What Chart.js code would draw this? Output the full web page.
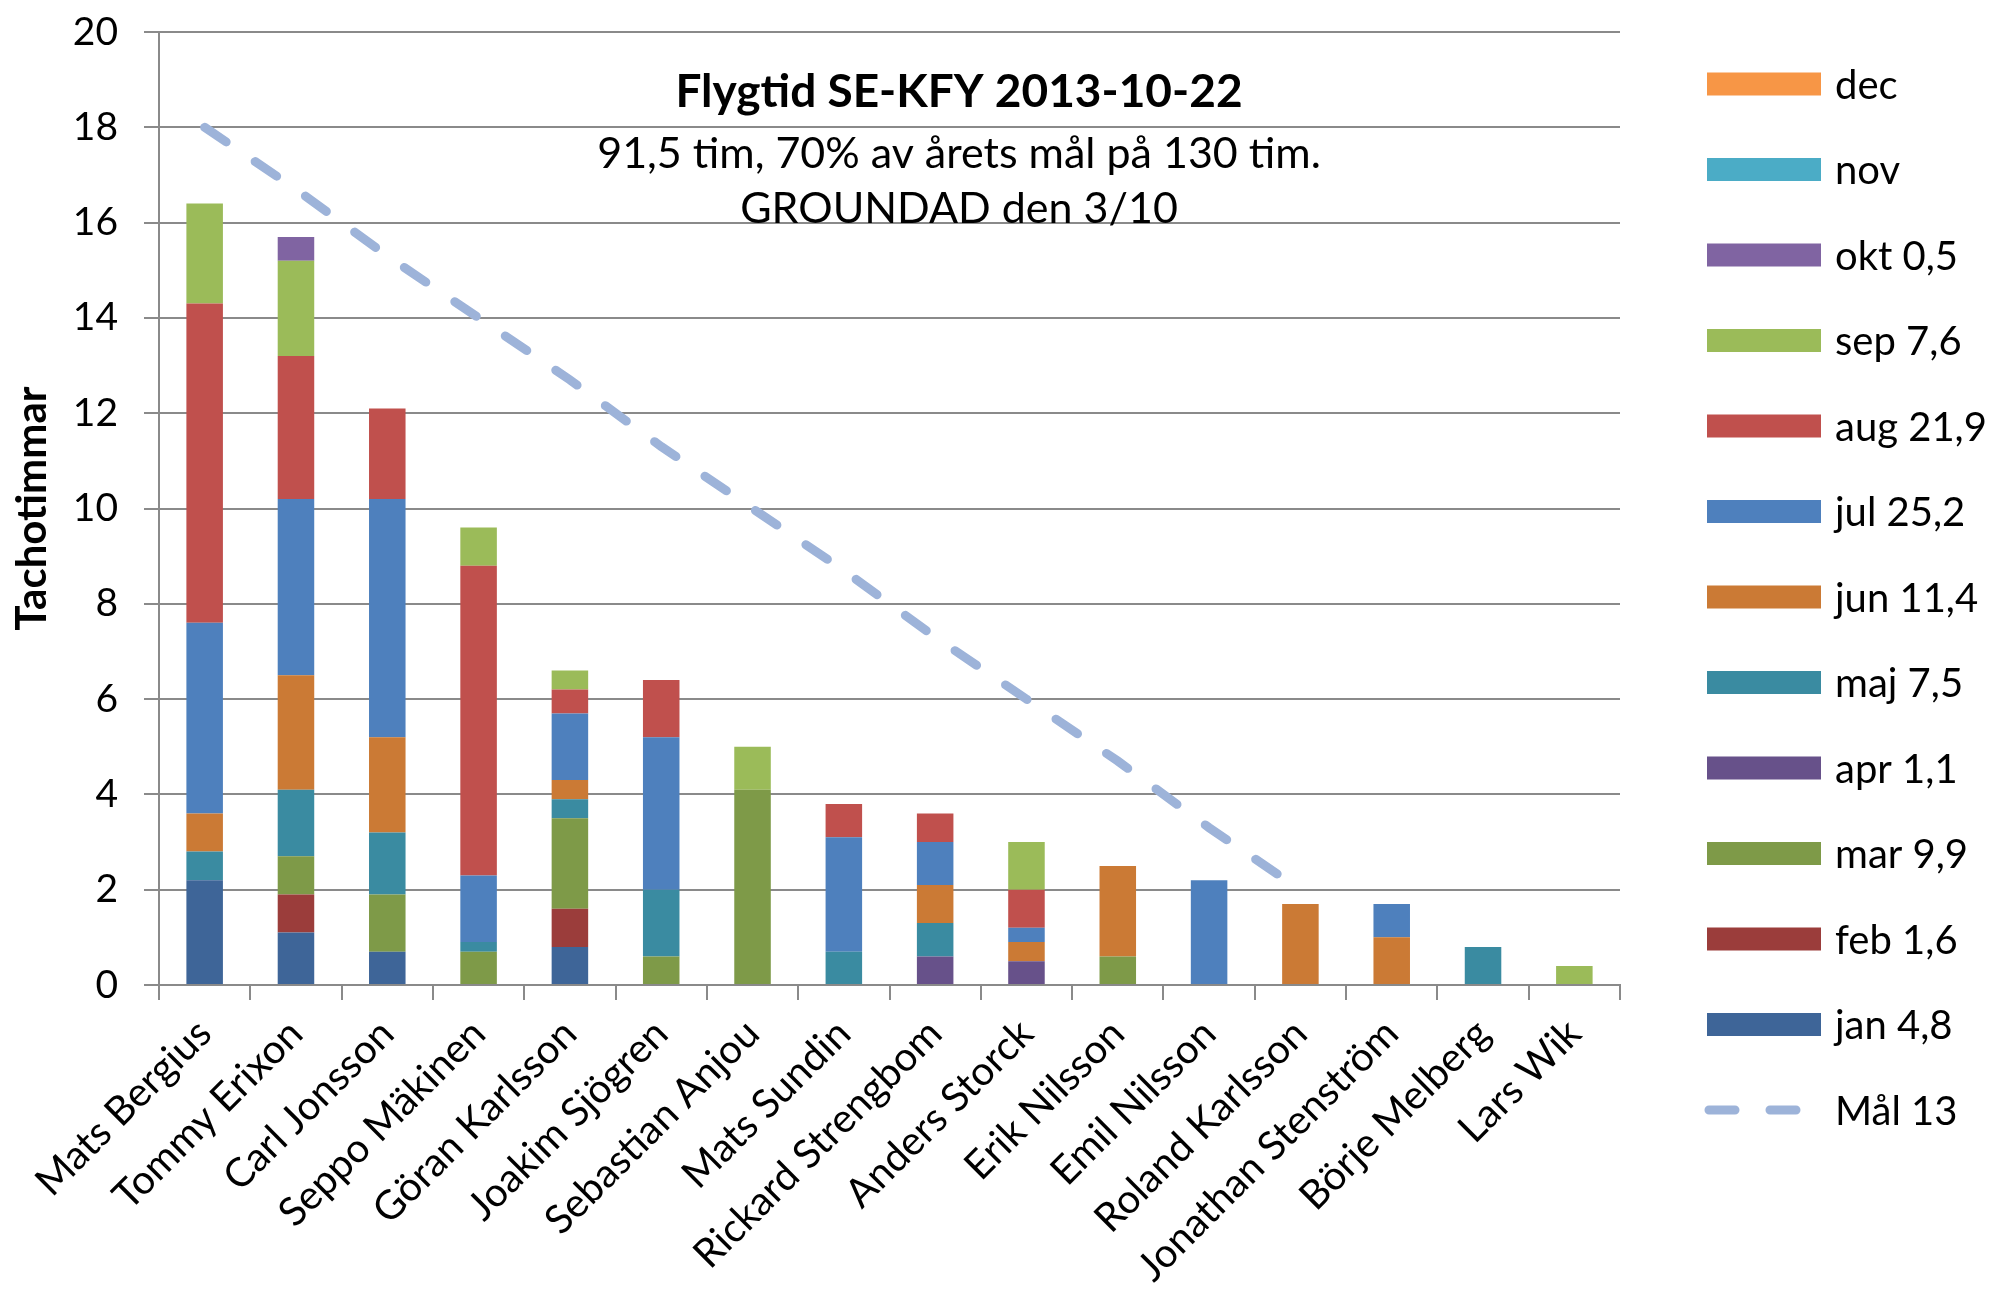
<!DOCTYPE html>
<html>
<head>
<meta charset="utf-8">
<title>Flygtid SE-KFY 2013-10-22</title>
<script src="https://cdn.jsdelivr.net/npm/chart.js@4.4.1/dist/chart.umd.min.js"></script>
<style>
  html, body { margin: 0; padding: 0; background: #ffffff; }
  #wrap { width: 1997px; height: 1304px; }
</style>
</head>
<body>
<div id="wrap"><canvas id="c" width="1997" height="1304"></canvas></div>
<script>
// Pilots (one stacked bar each)
const pilots = ["Mats Bergius", "Tommy Erixon", "Carl Jonsson", "Seppo Mäkinen", "Göran Karlsson",
  "Joakim Sjögren", "Sebastian Anjou", "Mats Sundin", "Rickard Strengbom", "Anders Storck",
  "Erik Nilsson", "Emil Nilsson", "Roland Karlsson", "Jonathan Stenström", "Börje Melberg", "Lars Wik"];

// Tacho hours per pilot and month
const jan = [2.2, 1.1, 0.7, 0, 0.8, 0, 0, 0, 0, 0, 0, 0, 0, 0, 0, 0];
const feb = [0, 0.8, 0, 0, 0.8, 0, 0, 0, 0, 0, 0, 0, 0, 0, 0, 0];
const mar = [0, 0.8, 1.2, 0.7, 1.9, 0.6, 4.1, 0, 0, 0, 0.6, 0, 0, 0, 0, 0];
const apr = [0, 0, 0, 0, 0, 0, 0, 0, 0.6, 0.5, 0, 0, 0, 0, 0, 0];
const maj = [0.6, 1.4, 1.3, 0.2, 0.4, 1.4, 0, 0.7, 0.7, 0, 0, 0, 0, 0, 0.8, 0];
const jun = [0.8, 2.4, 2.0, 0, 0.4, 0, 0, 0, 0.8, 0.4, 1.9, 0, 1.7, 1.0, 0, 0];
const jul = [4.0, 3.7, 5.0, 1.4, 1.4, 3.2, 0, 2.4, 0.9, 0.3, 0, 2.2, 0, 0.7, 0, 0];
const aug = [6.7, 3.0, 1.9, 6.5, 0.5, 1.2, 0, 0.7, 0.6, 0.8, 0, 0, 0, 0, 0, 0];
const sep = [2.1, 2.0, 0, 0.8, 0.4, 0, 0.9, 0, 0, 1.0, 0, 0, 0, 0, 0, 0.4];
const okt = [0, 0.5, 0, 0, 0, 0, 0, 0, 0, 0, 0, 0, 0, 0, 0, 0];
const nov = [0, 0, 0, 0, 0, 0, 0, 0, 0, 0, 0, 0, 0, 0, 0, 0];
const dec = [0, 0, 0, 0, 0, 0, 0, 0, 0, 0, 0, 0, 0, 0, 0, 0];

// Target line (hours)
const goal = [18, 16.7, 15.3, 14, 12.7, 11.3, 10, 8.7, 7.3, 6, 4.7, 3.3, 2, null, null, null];
const goalLabel = "Mål 13";

const monthNames = ["jan", "feb", "mar", "apr", "maj", "jun", "jul", "aug", "sep", "okt", "nov", "dec"];
const monthValues = [jan, feb, mar, apr, maj, jun, jul, aug, sep, okt, nov, dec];
const monthColors = ["#3E6598", "#9B3D3B", "#7E9A48", "#67518A", "#3A8BA1", "#CB7A35",
  "#4E80BD", "#C0504D", "#9BBB59", "#8064A2", "#4BACC6", "#F79646"];

const yTicks = [0, 2, 4, 6, 8, 10, 12, 14, 16, 18, 20];
const yearTarget = 130;

const fmt = v => v.toFixed(1).replace('.', ',');
const sum = a => a.reduce((s, v) => s + (v || 0), 0);
const totalHours = sum(monthValues.map(sum));

const datasets = monthNames.map((m, i) => {
  const t = sum(monthValues[i]);
  return {
    type: 'bar',
    label: t > 0 ? m + ' ' + fmt(t) : m,
    data: monthValues[i],
    backgroundColor: monthColors[i],
    borderWidth: 0,
    order: 2
  };
});
datasets.push({
  type: 'line',
  label: goalLabel,
  data: goal,
  borderColor: '#9DB3D9',
  borderWidth: 9,
  borderDash: [26, 35],
  borderCapStyle: 'round',
  pointRadius: 0,
  fill: false,
  tension: 0,
  spanGaps: false,
  order: 0
});

const FONT = 'Lato, "DejaVu Sans", sans-serif';
const GRID = '#8A8A8A';

// Title block written inside the plot area
const titleBlock = {
  id: 'titleBlock',
  afterDraw(chart) {
    const ctx = chart.ctx;
    const cx = 959;
    ctx.save();
    ctx.fillStyle = '#000';
    ctx.textAlign = 'center';
    ctx.textBaseline = 'middle';
    ctx.font = 'bold 46px ' + FONT;
    ctx.fillText('Flygtid SE-KFY 2013-10-22', cx, 92);
    ctx.font = '43px ' + FONT;
    const pct = Math.round(totalHours / yearTarget * 100);
    ctx.fillText(fmt(totalHours) + ' tim, ' + pct + '% av årets mål på ' + yearTarget + ' tim.', cx, 154);
    ctx.fillText('GROUNDAD den 3/10', cx, 209);
    ctx.restore();
  }
};

// Legend column on the right: months from dec down to jan, then the target line
const sideLegend = {
  id: 'sideLegend',
  afterDraw(chart) {
    const ctx = chart.ctx;
    const ds = chart.data.datasets;
    const bars = ds.filter(d => d.type === 'bar').slice().reverse();
    const lines = ds.filter(d => d.type === 'line');
    const items = bars.concat(lines);
    const x0 = 1707, boxW = 114, boxH = 23, y0 = 84, step = 85.5, tx = 1835;
    ctx.save();
    ctx.font = '40px ' + FONT;
    ctx.textBaseline = 'middle';
    ctx.textAlign = 'left';
    items.forEach((d, i) => {
      const y = y0 + i * step;
      if (d.type === 'bar') {
        ctx.fillStyle = d.backgroundColor;
        ctx.fillRect(x0, y - boxH / 2, boxW, boxH);
      } else {
        ctx.strokeStyle = d.borderColor;
        ctx.lineWidth = 9;
        ctx.lineCap = 'round';
        ctx.setLineDash([26, 35]);
        ctx.beginPath();
        ctx.moveTo(x0 + 2, y);
        ctx.lineTo(x0 + 96, y);
        ctx.stroke();
        ctx.setLineDash([]);
      }
      ctx.fillStyle = '#000';
      ctx.fillText(d.label, tx, y + 2);
    });
    ctx.restore();
  }
};

new Chart(document.getElementById('c'), {
  data: { labels: pilots, datasets: datasets },
  options: {
    responsive: false,
    animation: false,
    devicePixelRatio: 1,
    layout: { padding: { top: 32, right: 377, left: 0, bottom: 0 } },
    plugins: {
      legend: { display: false },
      title: { display: false },
      tooltip: { enabled: false }
    },
    datasets: {
      bar: { categoryPercentage: 1.0, barPercentage: 0.4 }
    },
    scales: {
      x: {
        stacked: true,
        offset: true,
        afterFit(scale) { scale.height = 319; },
        grid: {
          offset: true,
          drawOnChartArea: false,
          drawTicks: true,
          tickLength: 15,
          color: GRID,
          tickColor: GRID,
          lineWidth: 2
        },
        border: { display: true, color: GRID, width: 2 },
        ticks: {
          autoSkip: false,
          maxRotation: 45,
          minRotation: 45,
          padding: 10,
          color: '#000',
          font: { family: FONT, size: 40 }
        }
      },
      y: {
        stacked: true,
        min: 0,
        max: 20,
        afterFit(scale) {
          scale.width = 159;
          scale.paddingTop = 0;
          scale.paddingBottom = 0;
        },
        afterBuildTicks(scale) { scale.ticks = yTicks.map(v => ({ value: v })); },
        grid: {
          color: GRID,
          tickColor: GRID,
          lineWidth: 2,
          drawTicks: true,
          tickLength: 15
        },
        border: { display: true, color: GRID, width: 2 },
        ticks: {
          padding: 26,
          color: '#000',
          font: { family: FONT, size: 39 }
        },
        title: {
          display: true,
          text: 'Tachotimmar',
          color: '#000',
          padding: { top: 7, bottom: 0 },
          font: { family: FONT, size: 42, weight: 'bold' }
        }
      }
    }
  },
  plugins: [titleBlock, sideLegend]
});
</script>
</body>
</html>
